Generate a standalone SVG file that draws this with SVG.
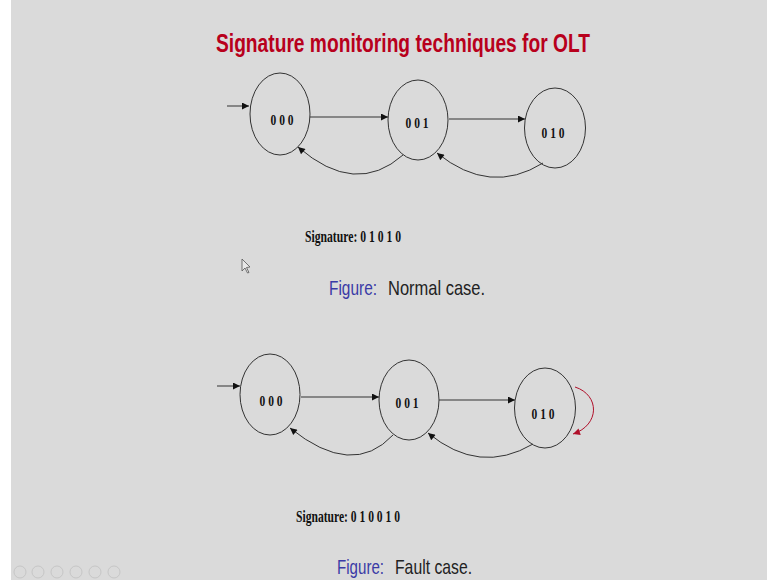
<svg xmlns="http://www.w3.org/2000/svg" width="767" height="580" viewBox="0 0 767 580">
<defs>
<style>
.node{fill:none;stroke:#333;stroke-width:1}
.lbl{font-family:"Liberation Serif",serif;font-weight:bold;font-size:15px;fill:#111;text-anchor:middle}
.edge{fill:none;stroke:#333;stroke-width:1}
.sig{font-family:"Liberation Serif",serif;font-weight:bold;font-size:16px;fill:#111}
.cap{font-family:"Liberation Sans",sans-serif;font-size:21px}
.fig{fill:#3a3aa6}
.txt{fill:#222}
.nav{fill:none;stroke:#c6c6c6;stroke-width:1}
</style>
<marker id="ah" viewBox="0 0 10 10" refX="10" refY="5" markerWidth="10" markerHeight="7" markerUnits="userSpaceOnUse" orient="auto"><path d="M0,0 L10,5 L0,10 z" fill="#111"/></marker>
<marker id="ahr" viewBox="0 0 10 10" refX="10" refY="5" markerWidth="10" markerHeight="7" markerUnits="userSpaceOnUse" orient="auto"><path d="M0,0 L10,5 L0,10 z" fill="#b0102a"/></marker>
</defs>
<rect x="0" y="0" width="767" height="580" fill="#dadada"/>
<rect x="0" y="0" width="11" height="580" fill="#ffffff"/>
<text x="216" y="52" font-family="Liberation Sans, sans-serif" font-weight="bold" font-size="25" fill="#b8001c" textLength="374" lengthAdjust="spacingAndGlyphs">Signature monitoring techniques for OLT</text>

<g id="top-n000"><ellipse class="node" cx="280" cy="114" rx="30" ry="41"/><text class="lbl" x="282" y="125" textLength="23" lengthAdjust="spacingAndGlyphs">0 0 0</text></g>
<g id="top-n001"><ellipse class="node" cx="418" cy="120" rx="30" ry="40"/><text class="lbl" x="417" y="128" textLength="23" lengthAdjust="spacingAndGlyphs">0 0 1</text></g>
<g id="top-n010"><ellipse class="node" cx="555" cy="128" rx="30.5" ry="40"/><text class="lbl" x="553" y="138" textLength="23" lengthAdjust="spacingAndGlyphs">0 1 0</text></g>

<g id="bot-n000"><ellipse class="node" cx="270" cy="394.5" rx="30" ry="40.5"/><text class="lbl" x="271" y="406" textLength="23" lengthAdjust="spacingAndGlyphs">0 0 0</text></g>
<g id="bot-n001"><ellipse class="node" cx="409" cy="400" rx="30" ry="40"/><text class="lbl" x="407" y="408" textLength="23" lengthAdjust="spacingAndGlyphs">0 0 1</text></g>
<g id="bot-n010"><ellipse class="node" cx="545" cy="408" rx="30.5" ry="40"/><text class="lbl" x="543" y="419" textLength="23" lengthAdjust="spacingAndGlyphs">0 1 0</text></g>

<g id="connectors">
<path class="edge" d="M227,106 L249,106" marker-end="url(#ah)"/>
<path class="edge" d="M310,117 L388,117" marker-end="url(#ah)"/>
<path class="edge" d="M449,119 L525,119" marker-end="url(#ah)"/>
<path class="edge" d="M403,155 Q355.5,197 298,147" marker-end="url(#ah)"/>
<path class="edge" d="M543,163 Q490,196 437,153" marker-end="url(#ah)"/>

<path class="edge" d="M217,386 L240,386" marker-end="url(#ah)"/>
<path class="edge" d="M301,397 L379,397" marker-end="url(#ah)"/>
<path class="edge" d="M439,400 L515,400" marker-end="url(#ah)"/>
<path class="edge" d="M393,435 Q352.5,478.5 290,428" marker-end="url(#ah)"/>
<path class="edge" d="M533,444 Q479.5,475.5 428,433" marker-end="url(#ah)"/>
<path d="M575,387 C600,395 600,425 573,434" fill="none" stroke="#b0102a" stroke-width="1" marker-end="url(#ahr)"/>
</g>

<text class="sig" x="305" y="242" textLength="96" lengthAdjust="spacingAndGlyphs">Signature: 0 1 0 1 0</text>
<text class="cap fig" transform="translate(329,295) scale(0.73,1)" x="0" y="0" textLength="65.8" lengthAdjust="spacingAndGlyphs">Figure:</text>
<text class="cap txt" transform="translate(388,295) scale(0.73,1)" x="0" y="0" textLength="132.9" lengthAdjust="spacingAndGlyphs">Normal case.</text>

<text class="sig" x="296" y="522" textLength="104" lengthAdjust="spacingAndGlyphs">Signature: 0 1 0 0 1 0</text>
<text class="cap fig" transform="translate(337,574) scale(0.73,1)" x="0" y="0" textLength="64.4" lengthAdjust="spacingAndGlyphs">Figure:</text>
<text class="cap txt" transform="translate(395,574) scale(0.73,1)" x="0" y="0" textLength="105.5" lengthAdjust="spacingAndGlyphs">Fault case.</text>

<path d="M242,259 L242,271 L245,268 L247.5,273 L249,272.5 L246.5,267.5 L250,267 Z" fill="#e8e8e8" stroke="#555" stroke-width="0.8"/>

<g id="nav">
<circle class="nav" cx="20" cy="572" r="6"/>
<circle class="nav" cx="38" cy="572" r="6"/>
<circle class="nav" cx="57" cy="572" r="6"/>
<circle class="nav" cx="76" cy="572" r="6"/>
<circle class="nav" cx="95" cy="572" r="6"/>
<circle class="nav" cx="114" cy="572" r="6"/>
</g>
</svg>
